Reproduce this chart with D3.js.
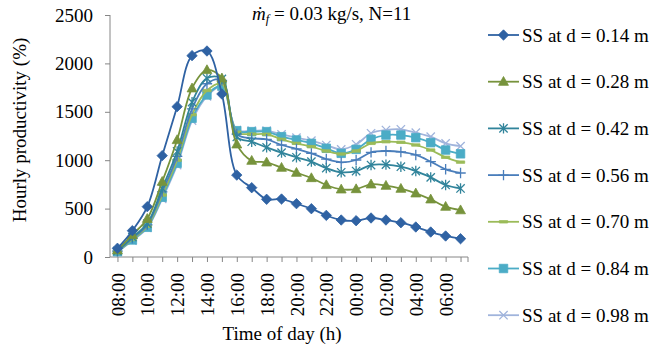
<!DOCTYPE html>
<meta charset="utf-8">
<html>
<style>
body { margin: 0; background: #fff; }
svg { font-family: "Liberation Serif", "Times New Roman", serif; }
.axis path, .axis line { stroke: #868686; }
.axis text { font-family: "Liberation Serif", serif; font-size: 19px; fill: #000; }
</style>
<body>
<script src="https://cdnjs.cloudflare.com/ajax/libs/d3/7.8.5/d3.min.js"></script>
<script>
	var hours = ["08:00","09:00","10:00","11:00","12:00","13:00","14:00","15:00","16:00","17:00","18:00","19:00",
		"20:00","21:00","22:00","23:00","00:00","01:00","02:00","03:00","04:00","05:00","06:00","07:00"];
	var yTicks = [0, 500, 1000, 1500, 2000, 2500];

	var ss014 = [90, 272, 520, 1047, 1553, 2080, 2128, 1684, 846, 716, 596, 599, 551, 499, 430, 382, 375, 403, 382, 354, 310, 258, 217, 189];
	var ss028 = [70, 230, 395, 778, 1209, 1743, 1932, 1846, 1164, 995, 978, 923, 871, 816, 744, 699, 702, 751, 737, 706, 658, 596, 520, 484];
	var ss042 = [62, 205, 345, 710, 1090, 1600, 1846, 1840, 1240, 1191, 1133, 1078, 1030, 985, 919, 875, 888, 950, 954, 933, 888, 823, 744, 708];
	var ss056 = [60, 192, 332, 672, 1040, 1530, 1790, 1825, 1270, 1226, 1216, 1157, 1116, 1071, 1012, 978, 1002, 1081, 1095, 1085, 1054, 985, 906, 868];
	var ss070 = [57, 182, 318, 640, 1000, 1470, 1720, 1790, 1290, 1270, 1268, 1216, 1174, 1140, 1095, 1064, 1095, 1174, 1191, 1185, 1157, 1105, 1030, 980];
	var ss084 = [55, 176, 307, 617, 968, 1433, 1674, 1767, 1305, 1295, 1295, 1243, 1209, 1174, 1123, 1071, 1112, 1216, 1260, 1260, 1233, 1181, 1105, 1066];
	var ss098 = [52, 170, 300, 600, 950, 1410, 1660, 1760, 1312, 1305, 1305, 1267, 1233, 1202, 1157, 1112, 1164, 1278, 1312, 1319, 1284, 1243, 1174, 1145];

	var seriesNames = ["SS at d = 0.14 m", "SS at d = 0.28 m", "SS at d = 0.42 m", "SS at d = 0.56 m",
		"SS at d = 0.70 m", "SS at d = 0.84 m", "SS at d = 0.98 m"];
	var seriesValues = [ss014, ss028, ss042, ss056, ss070, ss084, ss098];
	var colors = ["#2f62a3", "#77933c", "#31849b", "#4a7ebb", "#9bbb59", "#4bacc6", "#a0b4dc"];
	var markers = ["diamond", "triangle", "asterisk", "plus", "dash", "square", "cross"];

	var width = 651, height = 349;
	var plotLeft = 110, plotRight = 468, plotTop = 15, plotBottom = 257;
	var fontSize = "19px";

	var svg = d3.select("body").append("svg")
		.attr("width", width)
		.attr("height", height);

	var x = d3.scalePoint().domain(hours).range([plotLeft, plotRight]).padding(0.5);
	var y = d3.scaleLinear().domain([0, 2500]).range([plotBottom, plotTop]);

	// y axis
	var yAxis = svg.append("g").attr("class", "axis")
		.attr("transform", "translate(" + plotLeft + ",0)")
		.call(d3.axisLeft(y).tickValues(yTicks).tickFormat(d3.format("d"))
			.tickSize(5).tickSizeOuter(0).tickPadding(12));
	yAxis.select(".domain").attr("d", "M0," + plotTop + "V" + plotBottom);

	// x axis, ticks at each category, labels every other hour
	var xAxis = svg.append("g").attr("class", "axis")
		.attr("transform", "translate(0," + plotBottom + ")")
		.call(d3.axisBottom(x).tickSize(5).tickSizeOuter(0)
			.tickFormat((d, i) => i % 2 == 0 ? d : ""));
	xAxis.select(".domain").attr("d", "M" + plotLeft + ",0H" + plotRight);
	xAxis.append("line").attr("x1", plotRight).attr("x2", plotRight).attr("y1", 0).attr("y2", 5);
	xAxis.selectAll(".tick text")
		.attr("transform", "rotate(-90)")
		.attr("x", -16)
		.attr("y", 0)
		.attr("dy", "0.35em")
		.style("text-anchor", "end");

	function markerPath(type, s) {
		switch (type) {
			case "diamond": return "M0," + (-s) + "L" + s + ",0L0," + s + "L" + (-s) + ",0Z";
			case "triangle": return "M0," + (-s) + "L" + (s * 0.95) + "," + (s * 0.7) + "L" + (-s * 0.95) + "," + (s * 0.7) + "Z";
			case "square": return "M" + (-s * 0.85) + "," + (-s * 0.85) + "h" + (1.7 * s) + "v" + (1.7 * s) + "h" + (-1.7 * s) + "Z";
			case "asterisk": return "M" + (-s * 0.8) + "," + (-s * 0.8) + "L" + (s * 0.8) + "," + (s * 0.8) +
				"M" + (s * 0.8) + "," + (-s * 0.8) + "L" + (-s * 0.8) + "," + (s * 0.8) + "M0," + (-s) + "V" + s;
			case "plus": return "M" + (-s) + ",0H" + s + "M0," + (-s) + "V" + s;
			case "cross": return "M" + (-s * 0.8) + "," + (-s * 0.8) + "L" + (s * 0.8) + "," + (s * 0.8) +
				"M" + (s * 0.8) + "," + (-s * 0.8) + "L" + (-s * 0.8) + "," + (s * 0.8);
			case "dash": return "M" + (-s * 0.8) + ",-1.2h" + (1.6 * s) + "v2.4h" + (-1.6 * s) + "Z";
		}
	}

	function drawMarker(g, type, color, cx, cy) {
		var filled = ["diamond", "triangle", "square", "dash"].indexOf(type) >= 0;
		g.append("path")
			.attr("transform", "translate(" + cx + "," + cy + ")")
			.attr("d", markerPath(type, type == "square" ? 5 : 5.2))
			.attr("fill", filled ? color : "none")
			.attr("stroke", color)
			.attr("stroke-width", filled ? 0.8 : 1.3);
	}

	var line = d3.line()
		.x((d, i) => x(hours[i]))
		.y(d => y(d))
		.curve(d3.curveCatmullRom.alpha(0.5));

	var plot = svg.append("g");
	// draw last series first so 0.14 is on top
	for (var k = seriesValues.length - 1; k >= 0; k--) {
		var g = plot.append("g");
		g.append("path")
			.datum(seriesValues[k])
			.attr("d", line)
			.attr("fill", "none")
			.attr("stroke", colors[k])
			.attr("stroke-width", 1.8);
		seriesValues[k].forEach(function (v, i) {
			drawMarker(g, markers[k], colors[k], x(hours[i]), y(v));
		});
	}

	// legend
	var legend = svg.append("g");
	seriesNames.forEach(function (name, k) {
		var ly = 35 + k * 46.7;
		var lg = legend.append("g");
		lg.append("line")
			.attr("x1", 488).attr("x2", 519)
			.attr("y1", ly).attr("y2", ly)
			.attr("stroke", colors[k]).attr("stroke-width", 1.8);
		drawMarker(lg, markers[k], colors[k], 503.5, ly);
		lg.append("text")
			.attr("x", 522).attr("y", ly)
			.attr("dy", "0.35em")
			.style("font-size", fontSize)
			.text(name);
	});

	// annotation
	var ann = svg.append("text")
		.attr("x", 252).attr("y", 20)
		.style("font-size", fontSize);
	ann.append("tspan").style("font-style", "italic").text("\u1E41");
	ann.append("tspan").style("font-style", "italic").style("font-size", "12.5px").attr("dy", 3).text("f");
	ann.append("tspan").attr("dy", -3).text(" = 0.03 kg/s, N=11");

	// axis titles
	svg.append("text")
		.attr("transform", "translate(26,130) rotate(-90)")
		.style("text-anchor", "middle")
		.style("font-size", fontSize)
		.text("Hourly productivity (%)");

	svg.append("text")
		.attr("x", 282).attr("y", 340)
		.style("text-anchor", "middle")
		.style("font-size", fontSize)
		.text("Time of day (h)");
</script>
</body>
</html>
